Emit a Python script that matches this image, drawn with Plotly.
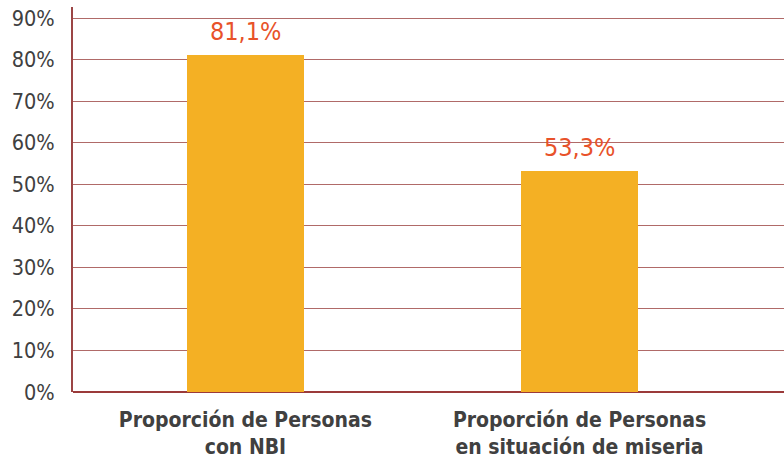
import plotly.graph_objects as go

categories = ["Proporción de Personas<br>con NBI", "Proporción de Personas<br>en situación de miseria"]
values = [81.1, 53.3]
value_labels = ["81,1%", "53,3%"]
tick_vals = [0, 10, 20, 30, 40, 50, 60, 70, 80, 90]
tick_text = ["0%", "10%", "20%", "30%", "40%", "50%", "60%", "70%", "80%", "90%"]

FONT = "DejaVu Sans Condensed, Roboto, sans-serif"

fig = go.Figure(go.Bar(
    x=[0, 1], y=values, width=0.35,
    marker=dict(color="#F4B024", line=dict(width=0)),
    cliponaxis=False,
))

for i, (v, t) in enumerate(zip(values, value_labels)):
    fig.add_annotation(
        x=i, y=v, text=t, showarrow=False,
        xanchor="center", yanchor="bottom", yshift=7,
        font=dict(family=FONT, size=25, color="#E8522A"),
    )

fig.update_layout(
    width=784, height=463,
    margin=dict(l=73, r=0, t=7, b=71),
    paper_bgcolor="white", plot_bgcolor="white",
    showlegend=False,
    bargap=0,
)
fig.update_xaxes(
    range=[-0.516, 1.612], automargin=False,
    tickvals=[0, 1], ticktext=[f"<b>{c}</b>" for c in categories],
    tickfont=dict(family=FONT, size=21, color="#404040"),
    showgrid=False, zeroline=False, showline=False, ticks="",
    ticklabelstandoff=13,
)
fig.update_yaxes(
    range=[0, 92.7], automargin=False,
    tickvals=tick_vals, ticktext=tick_text,
    tickfont=dict(family=FONT, size=21.5, color="#404040"),
    showgrid=True, gridcolor="#B06A68", gridwidth=1.3,
    zeroline=True, zerolinecolor="#9B3A3A", zerolinewidth=2,
    showline=True, linecolor="#9B4545", linewidth=2,
    ticks="", ticklabelstandoff=12,
)

fig.write_html("out.html", config={"displayModeBar": False},
               post_script="document.body.style.margin='0';")
